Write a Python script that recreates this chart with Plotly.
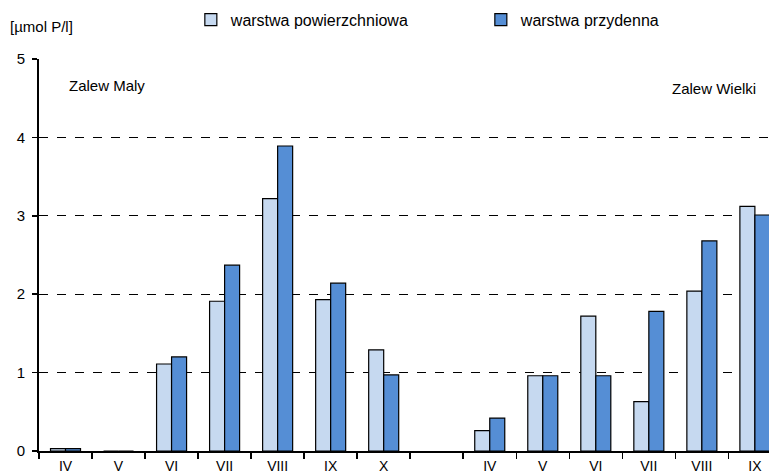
import plotly.graph_objects as go

# Data
categories = ["IV", "V", "VI", "VII", "VIII", "IX", "X", "",
              "IV", "V", "VI", "VII", "VIII", "IX"]
surface = [0.03, 0.0, 1.11, 1.91, 3.22, 1.93, 1.29, None,
           0.26, 0.96, 1.72, 0.63, 2.04, 3.12]
bottom = [0.03, 0.0, 1.20, 2.37, 3.89, 2.14, 0.97, None,
          0.42, 0.96, 0.96, 1.78, 2.68, 3.01]
series_names = ["warstwa powierzchniowa", "warstwa przydenna"]
y_ticks = [0, 1, 2, 3, 4, 5]
unit_label = "[µmol P/l]"
region_labels = ["Zalew Maly", "Zalew Wielki"]

x_pos = list(range(len(categories)))
boundaries = [i - 0.5 for i in range(len(categories) + 1)]

FONT = "Liberation Sans, Arial, sans-serif"
LIGHT = "#c6d9f0"
DARK = "#558ed5"

fig = go.Figure()
fig.add_trace(go.Bar(
    x=x_pos, y=surface, name=series_names[0],
    marker=dict(color=LIGHT, line=dict(color="#000000", width=1.2)),
))
fig.add_trace(go.Bar(
    x=x_pos, y=bottom, name=series_names[1],
    marker=dict(color=DARK, line=dict(color="#000000", width=1.2)),
))

fig.add_annotation(x=0.02, y=4.66, xref="x", yref="y", text=region_labels[0],
                   showarrow=False, xanchor="left", yanchor="middle",
                   font=dict(family=FONT, size=15, color="#000000"))
fig.add_annotation(x=13.05, y=4.63, xref="x", yref="y", text=region_labels[1],
                   showarrow=False, xanchor="right", yanchor="middle",
                   font=dict(family=FONT, size=15, color="#000000"))
fig.add_annotation(x=-0.042, y=1.082, xref="paper", yref="paper", text=unit_label,
                   showarrow=False, xanchor="left", yanchor="middle",
                   font=dict(family=FONT, size=15, color="#000000"))

fig.update_layout(
    width=769, height=475,
    margin=dict(l=39, r=0, t=59, b=24, autoexpand=False),
    paper_bgcolor="white", plot_bgcolor="white",
    barmode="group", bargap=0.434, bargroupgap=0.0,
    font=dict(family=FONT, size=15, color="#000000"),
    legend=dict(orientation="h", x=0.208, xanchor="left", y=1.10, yanchor="middle",
                font=dict(family=FONT, size=16, color="#000000"),
                entrywidth=245, entrywidthmode="pixels",
                bgcolor="rgba(0,0,0,0)", traceorder="normal"),
    xaxis=dict(
        range=[-0.5, 13.266], automargin=False,
        tickmode="array", tickvals=x_pos, ticktext=categories,
        ticks="outside", ticklen=1, tickcolor="rgba(0,0,0,0)",
        ticklabelstandoff=0,
        showline=True, linecolor="#000000", linewidth=2,
        showgrid=False, zeroline=False,
        minor=dict(tickmode="array", tickvals=boundaries, ticks="outside",
                   ticklen=6, tickwidth=1.5, tickcolor="#000000", showgrid=False),
        tickfont=dict(family=FONT, size=14, color="#000000"),
    ),
    yaxis=dict(
        range=[0, 5], automargin=False,
        tickmode="array", tickvals=y_ticks,
        ticks="outside", ticklen=5, tickwidth=1.5, tickcolor="#000000",
        ticklabelstandoff=4,
        showline=True, linecolor="#000000", linewidth=2,
        showgrid=True, gridcolor="#000000", gridwidth=1, griddash="dash",
        zeroline=False,
        tickfont=dict(family=FONT, size=15, color="#000000"),
    ),
)

fig.write_html(
    "out.html",
    config={"displayModeBar": False, "staticPlot": True},
    post_script="document.body.style.margin='0';document.body.style.overflow='hidden';",
)
